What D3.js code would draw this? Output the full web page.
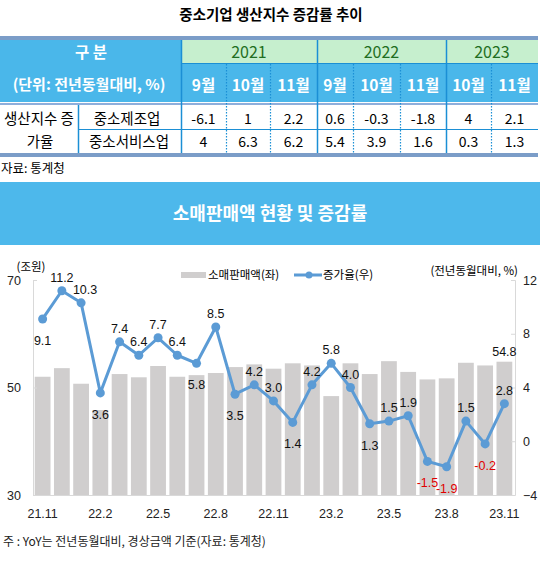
<!DOCTYPE html>
<html>
<head>
<meta charset="utf-8">
<script src="https://cdn.jsdelivr.net/npm/d3@7"></script>
<style>
    body { margin: 0; background: #fff; }
    svg { display: block; font-family: "Noto Sans CJK KR", "Noto Sans", sans-serif; }
</style>
</head>
<body>
<svg id="chart" width="540" height="562"></svg>
<script>
// table: 중소기업 생산지수 증감률
const years = ["2021", "2022", "2023"];
const yearSpans = [3, 3, 2];
const monthHeads = ["9월", "10월", "11월", "9월", "10월", "11월", "10월", "11월"];
const mfgRate = [-6.1, 1, 2.2, 0.6, -0.3, -1.8, 4, 2.1];
const svcRate = [4, 6.3, 6.2, 5.4, 3.9, 1.6, 0.3, 1.3];

// chart: 소매판매액 (조원) and YoY (%)
const months = ["21.11", "21.12", "22.1", "22.2", "22.3", "22.4", "22.5", "22.6", "22.7", "22.8", "22.9", "22.10",
    "22.11", "22.12", "23.1", "23.2", "23.3", "23.4", "23.5", "23.6", "23.7", "23.8", "23.9", "23.10", "23.11"];
const retailSales = [52.0, 53.6, 50.7, 45.8, 52.5, 51.9, 54.0, 52.0, 52.3, 52.7, 53.8, 54.3,
    53.5, 54.5, 54.1, 48.4, 54.5, 52.5, 54.9, 52.9, 51.5, 51.7, 54.6, 54.1, 54.8];
const yoyRate = [9.1, 11.2, 10.3, 3.6, 7.4, 6.4, 7.7, 6.4, 5.8, 8.5, 3.5, 4.2,
    3.0, 1.4, 4.2, 5.8, 4.0, 1.3, 1.5, 1.9, -1.5, -1.9, 1.5, -0.2, 2.8];
const leftTicks = [30, 50, 70];
const rightTicks = [-4, 0, 4, 8, 12];

const svg = d3.select("#chart");

// ---- table ----
const blue = "#4ab7ea", lineBlue = "#1b8fd5", frame = "#7b9dc8";
const colEdges = [181, 226, 270, 317, 353, 400, 446, 491, 538];
const groupStarts = [0, 3, 6];
const colMid = i => (colEdges[i] + colEdges[i + 1]) / 2;

svg.append("text")
    .attr("x", 271).attr("y", 20)
    .attr("text-anchor", "middle")
    .attr("font-size", 14.5).attr("font-weight", "bold")
    .text("중소기업 생산지수 증감률 추이");

const tbl = svg.append("g");
tbl.append("rect").attr("x", 0).attr("y", 36).attr("width", 538).attr("height", 4).attr("fill", frame);
tbl.append("rect").attr("x", 0).attr("y", 40).attr("width", 538).attr("height", 62).attr("fill", blue);

years.forEach((yr, i) => {
    const a = colEdges[groupStarts[i]], b = colEdges[groupStarts[i] + yearSpans[i]];
    tbl.append("rect").attr("x", a).attr("y", 40).attr("width", b - a).attr("height", 23.5).attr("fill", "#c6efce");
    tbl.append("text").attr("x", (a + b) / 2).attr("y", 57.5)
        .attr("text-anchor", "middle").attr("font-size", 16).attr("fill", "#1f6e22")
        .text(yr);
});

tbl.append("text").attr("x", 91).attr("y", 58).attr("text-anchor", "middle")
    .attr("font-size", 15.5).attr("font-weight", "bold").attr("fill", "#fff").text("구 분");
tbl.append("text").attr("x", 89).attr("y", 90).attr("text-anchor", "middle")
    .attr("font-size", 15).attr("font-weight", "bold").attr("fill", "#fff").text("(단위: 전년동월대비, %)");

monthHeads.forEach((m, i) => {
    tbl.append("text").attr("x", colMid(i)).attr("y", 91).attr("text-anchor", "middle")
        .attr("font-size", 15.5).attr("font-weight", "bold").attr("fill", "#fff").text(m);
});

tbl.append("rect").attr("x", 0).attr("y", 103).attr("width", 538).attr("height", 2).attr("fill", "#8eaedb");
tbl.append("rect").attr("x", 0).attr("y", 153).attr("width", 538).attr("height", 4).attr("fill", frame);

// grid lines
colEdges.slice(0, -1).forEach((x, i) => {
    const solid = groupStarts.includes(i);
    const l = tbl.append("line").attr("x1", x + 0.5).attr("x2", x + 0.5)
        .attr("y1", solid ? 40 : 64).attr("y2", 153)
        .attr("stroke", lineBlue).attr("stroke-width", solid ? 1.5 : 1.2);
    if (!solid) l.attr("stroke-dasharray", "1.5,1.5");
});
tbl.append("line").attr("x1", 181).attr("x2", 538).attr("y1", 63.5).attr("y2", 63.5).attr("stroke", lineBlue).attr("stroke-width", 1);
tbl.append("line").attr("x1", 78.5).attr("x2", 78.5).attr("y1", 105).attr("y2", 153).attr("stroke", lineBlue).attr("stroke-width", 1.5);
tbl.append("line").attr("x1", 78).attr("x2", 538).attr("y1", 129.5).attr("y2", 129.5).attr("stroke", lineBlue).attr("stroke-width", 1);

tbl.append("text").attr("x", 39).attr("y", 124).attr("text-anchor", "middle").attr("font-size", 14.5).text("생산지수 증");
tbl.append("text").attr("x", 40).attr("y", 147).attr("text-anchor", "middle").attr("font-size", 14.5).text("가율");
tbl.append("text").attr("x", 127).attr("y", 124).attr("text-anchor", "middle").attr("font-size", 14.5).text("중소제조업");
tbl.append("text").attr("x", 129).attr("y", 147).attr("text-anchor", "middle").attr("font-size", 14.5).text("중소서비스업");

[mfgRate, svcRate].forEach((row, r) => {
    row.forEach((v, i) => {
        tbl.append("text").attr("x", colMid(i)).attr("y", r ? 147 : 124).attr("text-anchor", "middle")
            .attr("font-size", 14).text(v);
    });
});

svg.append("text").attr("x", 1).attr("y", 173).attr("font-size", 12.5).text("자료: 통계청");

// ---- banner ----
svg.append("rect").attr("x", 0).attr("y", 182).attr("width", 540).attr("height", 63).attr("fill", "#4db8eb");
svg.append("text").attr("x", 270).attr("y", 220).attr("text-anchor", "middle")
    .attr("font-size", 18).attr("font-weight", "bold").attr("fill", "#fff")
    .text("소매판매액 현황 및 증감률");

// ---- combo chart ----
const numFont = "'Liberation Sans Narrow', 'Liberation Sans', sans-serif";
const x = d3.scaleBand().domain(months).range([33, 514]).paddingInner(0.18).paddingOuter(0.09);
const yL = d3.scaleLinear().domain([30, 70]).range([495, 280]);
const yR = d3.scaleLinear().domain([-4, 12]).range([495, 280]);

const chart = svg.append("g");

chart.selectAll(".bar")
    .data(retailSales)
    .enter().append("rect")
    .attr("class", "bar")
    .attr("x", (d, i) => x(months[i]))
    .attr("width", x.bandwidth())
    .attr("y", d => yL(d))
    .attr("height", d => yL(30) - yL(d))
    .attr("fill", "#d0cece");

// axes
const axL = chart.append("g").attr("transform", "translate(33,0)")
    .call(d3.axisLeft(yL).tickValues(leftTicks).tickSize(-4).tickPadding(12));
const axR = chart.append("g").attr("transform", "translate(515,0)")
    .call(d3.axisRight(yR).tickValues(rightTicks).tickSize(-4).tickPadding(8));
const axB = chart.append("g").attr("transform", "translate(0,495)")
    .call(d3.axisBottom(x).tickValues(months.filter((m, i) => i % 3 === 0)).tickSize(0).tickPadding(14));

[axL, axR, axB].forEach(ax => {
    ax.select(".domain").attr("stroke", "#d9d9d9");
    ax.selectAll(".tick line").attr("stroke", "#d9d9d9");
    ax.selectAll("text").attr("font-family", numFont).attr("font-size", 12.5).attr("fill", "#222");
});
axB.select(".domain").attr("d", "M33,0.5H515");

// YoY line
const cx = (d, i) => x(months[i]) + x.bandwidth() / 2;
chart.append("path")
    .datum(yoyRate)
    .attr("fill", "none")
    .attr("stroke", "#5b9bd5")
    .attr("stroke-width", 3)
    .attr("stroke-linejoin", "round")
    .attr("d", d3.line().x(cx).y(d => yR(d)));

chart.selectAll(".dot")
    .data(yoyRate)
    .enter().append("circle")
    .attr("cx", cx)
    .attr("cy", d => yR(d))
    .attr("r", 4.5)
    .attr("fill", "#5b9bd5");

// which labels sit under their marker
const below = new Set([0, 3, 8, 10, 13, 17, 20, 21, 23]);
chart.selectAll(".lbl")
    .data(yoyRate)
    .enter().append("text")
    .attr("x", (d, i) => cx(d, i) + (i === 2 ? 4 : 0))
    .attr("y", (d, i) => yR(d) + (below.has(i) ? 26 : -9))
    .attr("text-anchor", "middle")
    .attr("font-family", numFont)
    .attr("font-size", 12.5)
    .attr("fill", d => d < 0 ? "#e00000" : "#111")
    .text(d => d.toFixed(1));

const last = retailSales.length - 1;
chart.append("text")
    .attr("x", cx(null, last))
    .attr("y", yL(retailSales[last]) - 6)
    .attr("text-anchor", "middle")
    .attr("font-family", numFont).attr("font-size", 12.5).attr("fill", "#111")
    .text(retailSales[last].toFixed(1));

// unit labels + legend
chart.append("text").attr("x", 31).attr("y", 271).attr("text-anchor", "middle").attr("font-size", 11.5).text("(조원)");
chart.append("text").attr("x", 518).attr("y", 275).attr("text-anchor", "end").attr("font-size", 11.5).text("(전년동월대비, %)");

chart.append("rect").attr("x", 181).attr("y", 272).attr("width", 25).attr("height", 6).attr("fill", "#d0cece");
chart.append("text").attr("x", 208).attr("y", 279).attr("font-size", 11.5).text("소매판매액(좌)");
chart.append("line").attr("x1", 294).attr("x2", 322).attr("y1", 275).attr("y2", 275).attr("stroke", "#5b9bd5").attr("stroke-width", 3);
chart.append("circle").attr("cx", 309).attr("cy", 275).attr("r", 3.5).attr("fill", "#5b9bd5");
chart.append("text").attr("x", 323).attr("y", 279).attr("font-size", 11.5).text("증가율(우)");

svg.append("text").attr("x", 3).attr("y", 546).attr("font-size", 12).attr("fill", "#222")
    .text("주 : YoY는 전년동월대비, 경상금액 기준(자료: 통계청)");
</script>
</body>
</html>
